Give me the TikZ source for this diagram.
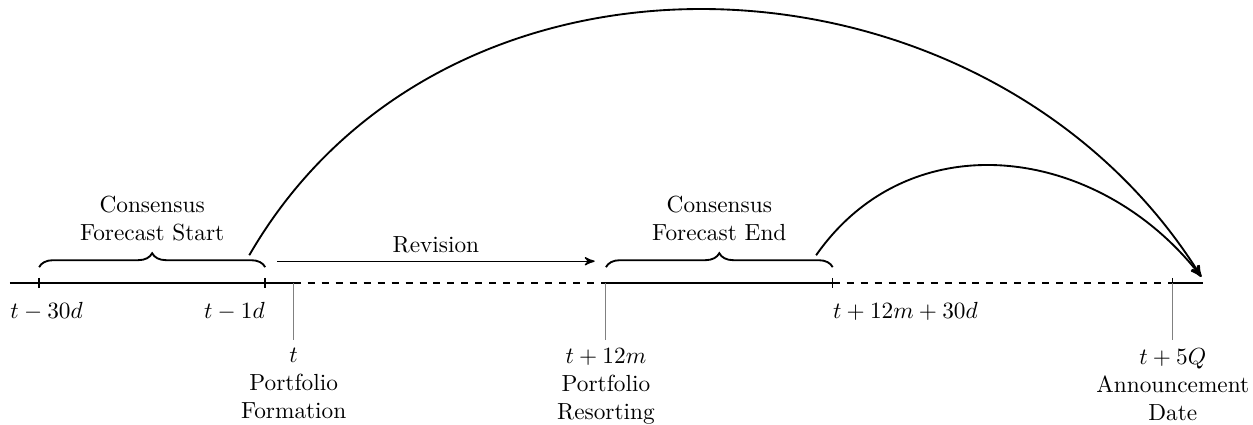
\documentclass[tikz,border=0pt]{standalone}
\usetikzlibrary{calc}
\usetikzlibrary{arrows}
\usetikzlibrary{decorations.pathreplacing}

\begin{document}
\begin{tikzpicture}[>=stealth']
\useasboundingbox (0,-2.13) rectangle (18.9,4.27);
% dates on the time line
\coordinate (start) at (0.15,0);
\coordinate (m30d) at (0.59,0);
\coordinate (m1d) at (4.0,0);
\coordinate (t) at (4.43,0);
\coordinate (t12m) at (9.14,0);
\coordinate (t12m30d) at (12.56,0);
\coordinate (t5Q) at (17.69,0);
\coordinate (stop) at (18.14,0);
\draw[semithick] (start) -- (t);
\draw[semithick, dashed] (t) -- (t12m);
\draw[semithick] (t12m) -- (t12m30d);
\draw[semithick, dashed] (t12m30d) -- (t5Q);
\draw[semithick] (t5Q) -- (stop);
\foreach \p in {m30d, m1d, t12m30d, t5Q} {
 \draw[semithick] ($(\p)+(0,.08)$) --($(\p)-(0,.08)$);
}
\node[anchor=north west, inner sep=0] (lm30d) at ($(start)+(0,-.28)$) {$t-30d$};
\node[anchor=north east, inner sep=0] (lm1d) at ($(m1d)+(0,-.28)$) {$t-1d$};
\node[anchor=north west, inner sep=0] (lt12m30d) at ($(t12m30d)+(0,-.28)$) {$t+12m+30d$};
% portfolio dates
\foreach \p in {t, t12m, t5Q} {
 \draw[gray] (\p) --++(0,-.86) coordinate (\p-low);
}
\node[below, align=center] (lt) at (t-low) {$t$\\Portfolio\\Formation};
\node[below, align=center] (lt12m) at (t12m-low) {$t+12m$\\Portfolio\\Resorting};
\node[below, align=center] (lt5Q) at (t5Q-low) {$t+5Q$\\Announcement\\Date};
% forecast windows
\draw[thick, decorate, decoration={brace, amplitude=6pt}] ($(m30d)+(0,.24)$) --($(m1d)+(0,.24)$)
 node[midway, above=7.5pt, align=center] (cfs) {Consensus\\Forecast Start};
\draw[thick, decorate, decoration={brace, amplitude=6pt}] ($(t12m)+(0,.24)$) --($(t12m30d)+(0,.24)$)
 node[midway, above=7.5pt, align=center] (cfe) {Consensus\\Forecast End};
\coordinate (revS) at (4.18,.33);
\coordinate (revE) at (8.97,.33);
\draw[semithick, ->] (revS) -- (revE) node[midway, above] (rev) {Revision};
% links to the announcement
\coordinate (cfsE) at (3.76,.42);
\coordinate (cfeE) at (12.31,.42);
\coordinate (ann) at (18.12,.095);
\draw[thick, ->] (cfsE) to[out=60, in=122, looseness=1.07] (ann);
\draw[thick, ->] (cfeE) to[out=55, in=128, looseness=1.1] (ann);
\end{tikzpicture}
\end{document}
